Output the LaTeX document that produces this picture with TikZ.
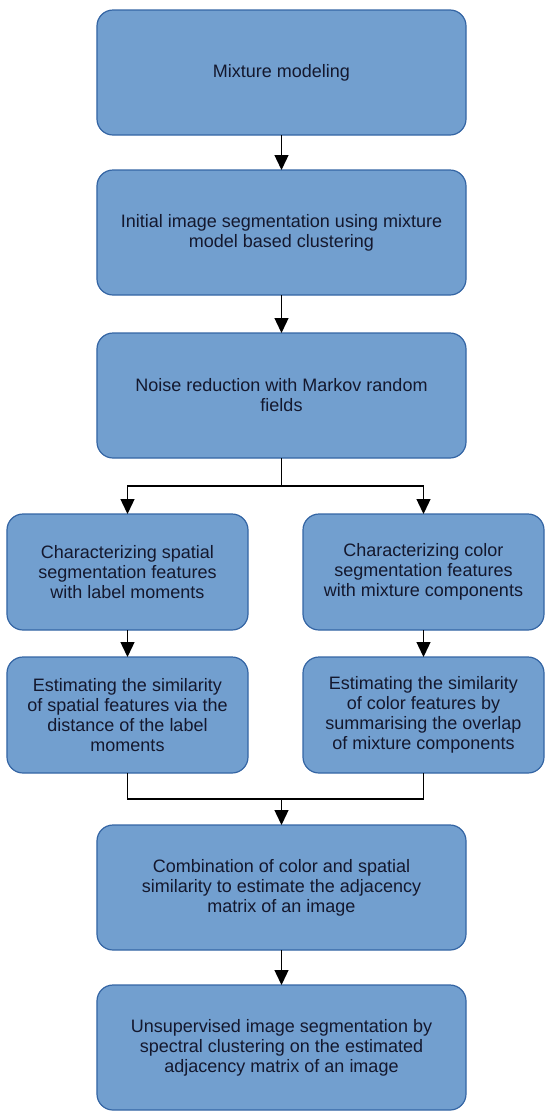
\documentclass[tikz,border=0pt]{standalone}
\usepackage{fontspec}
\setmainfont{Liberation Sans}
\usetikzlibrary{arrows.meta, positioning}
\definecolor{boxfill}{HTML}{729FCF}
\definecolor{boxline}{HTML}{3465A4}
\definecolor{boxtext}{HTML}{14182E}

\begin{document}
\begin{tikzpicture}[x=1bp, y=1bp, node distance=35bp,
    every node/.style={font=\fontsize{18bp}{20bp}\selectfont},
    bigbox/.style={rectangle, rounded corners=16bp, draw=boxline, line width=1.2bp, fill=boxfill, text=boxtext, align=center, minimum width=369bp, minimum height=125bp, inner sep=0pt, outer sep=0pt},
    smallbox/.style={bigbox, minimum width=241bp, minimum height=116bp},
    flow/.style={-{Triangle[length=15bp,width=14bp]}, line width=1.3bp}]
    \useasboundingbox (0,0) rectangle (550,-1118);
    \node[bigbox] (mix) at (281.5,-72.5) {Mixture modeling};
    \node[bigbox, below=35bp of mix] (init) {Initial image segmentation using mixture\\model based clustering};
    \node[bigbox, below=38bp of init] (noise) {Noise reduction with Markov random\\fields};
    \node[smallbox, below=56bp of noise, xshift=-154bp] (spat) {Characterizing spatial\\segmentation features\\with label moments};
    \node[smallbox, below=56bp of noise, xshift=142bp] (col) {Characterizing color\\segmentation features\\with mixture components};
    \node[smallbox, below=27bp of spat] (spatsim) {Estimating the similarity\\of spatial features via the\\distance of the label\\moments};
    \node[smallbox, below=27bp of col] (colsim) {Estimating the similarity\\of color features by\\summarising the overlap\\of mixture components};
    \node[bigbox, below=52bp of spatsim, xshift=154bp] (comb) {Combination of color and spatial\\similarity to estimate the adjacency\\matrix of an image};
    \node[bigbox, below=35bp of comb] (spec) {Unsupervised image segmentation by\\spectral clustering on the estimated\\adjacency matrix of an image};
    % main chain
    \draw[flow] (mix) -- (init);
    \draw[flow] (init) -- (noise);
    % split into the two branches
    \draw[line width=1.3bp] (noise.south) -- ++(0,-28) coordinate (split);
    \draw[flow] (split) -| (spat.north);
    \draw[flow] (split) -| (col.north);
    \draw[flow] (spat) -- (spatsim);
    \draw[flow] (col) -- (colsim);
    % join
    \draw[line width=1.3bp] (spatsim.south) -- ++(0,-26) coordinate (join) -| (colsim.south);
    \draw[flow] (comb.north |- join) -- (comb.north);
    \draw[flow] (comb) -- (spec);
\end{tikzpicture}
\end{document}
